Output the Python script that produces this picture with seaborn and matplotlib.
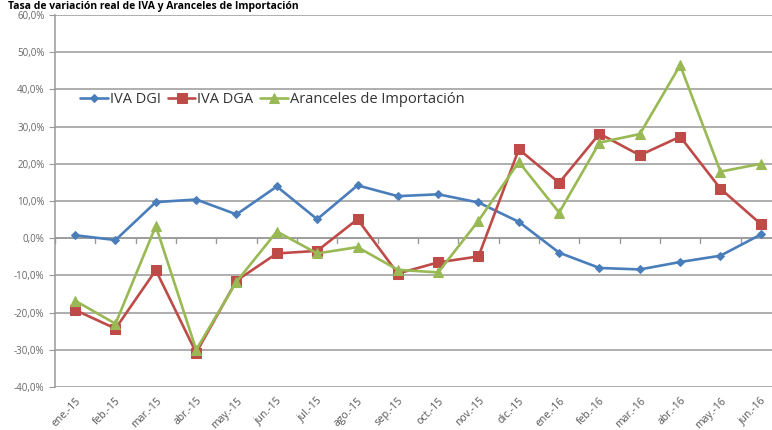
import matplotlib
matplotlib.use("Agg")
import matplotlib.pyplot as plt
import matplotlib.ticker as mticker
import seaborn as sns
import pandas as pd

months = ["ene.-15", "feb.-15", "mar.-15", "abr.-15", "may.-15", "jun.-15",
          "jul.-15", "ago.-15", "sep.-15", "oct.-15", "nov.-15", "dic.-15",
          "ene.-16", "feb.-16", "mar.-16", "abr.-16", "may.-16", "jun.-16"]

iva_dgi = [0.8, -0.5, 9.7, 10.4, 6.4, 13.9, 5.1, 14.2, 11.3, 11.8, 9.6, 4.4,
           -3.9, -8.0, -8.4, -6.4, -4.7, 1.0]
iva_dga = [-19.3, -24.3, -8.6, -30.8, -11.4, -4.1, -3.4, 5.1, -9.5, -6.5, -4.9, 23.9,
           14.9, 28.1, 22.3, 27.3, 13.3, 3.8]
aranceles = [-16.8, -23.0, 3.3, -30.0, -11.7, 1.8, -4.1, -2.4, -8.5, -9.2, 4.7, 20.5,
             6.9, 25.7, 28.0, 46.5, 17.9, 20.0]

series_names = ["IVA DGI", "IVA DGA", "Aranceles de Importación"]
series_values = [iva_dgi, iva_dga, aranceles]
colors = ["#4A7EBB", "#BE4B48", "#98B954"]
markers = ["D", "s", "^"]
marker_sizes = [4.5, 7, 7]

sns.set_style("white")
plt.rcParams["font.family"] = ["Open Sans", "DejaVu Sans"]

fig = plt.figure(figsize=(7.72, 4.30), dpi=100)
# axes runs a little past the right edge, like the cropped original
ax = fig.add_axes([55 / 772, 43 / 430, 726 / 772, 372 / 430])

for name, vals, col, mk, ms in zip(series_names, series_values, colors, markers, marker_sizes):
    df = pd.DataFrame({"pos": range(len(months)), "val": vals})
    sns.lineplot(data=df, x="pos", y="val", ax=ax, color=col, marker=mk,
                 markersize=ms, markeredgecolor=col, linewidth=1.9, label=name)

ax.set_xlim(-0.5, len(months) - 0.5)
ax.set_ylim(-40, 60)
ax.set_yticks(range(-40, 61, 10))
ax.yaxis.set_major_formatter(mticker.FuncFormatter(lambda v, p: f"{v:.1f}%".replace(".", ",")))
ax.yaxis.grid(True, color="#999999", linewidth=1.1)
ax.set_axisbelow(True)

# category axis crossing at 0, ticks between categories
ax.axhline(0, color="#999999", linewidth=1.1, zorder=0)
for i in range(len(months) + 1):
    ax.plot([i - 0.5, i - 0.5], [0, -1.4], color="#999999", linewidth=1, zorder=0)

ax.set_xticks(range(len(months)))
ax.set_xticklabels(months, rotation=45, ha="right", rotation_mode="anchor")
ax.tick_params(axis="x", length=0, labelsize=7.5, labelcolor="#555555", pad=6)
ax.tick_params(axis="y", length=4, color="#999999", labelsize=7, labelcolor="#666666", left=True)
ax.set_xlabel("")
ax.set_ylabel("")

for s in ["top", "right", "bottom"]:
    ax.spines[s].set_visible(False)
ax.spines["left"].set_color("#999999")
ax.spines["left"].set_linewidth(1.1)

ax.legend(loc="center left", bbox_to_anchor=(0.027, 0.772), ncol=3, frameon=False,
          fontsize=10.5, handlelength=1.9, handletextpad=0.1, columnspacing=0.5,
          borderaxespad=0, labelcolor="#333333")

fig.text(0.01, 1 - 1 / 430, "Tasa de variación real de IVA y Aranceles de Importación",
         fontsize=7.5, fontweight="bold", va="top", ha="left", color="black")

fig.savefig("out.png", dpi=100)
